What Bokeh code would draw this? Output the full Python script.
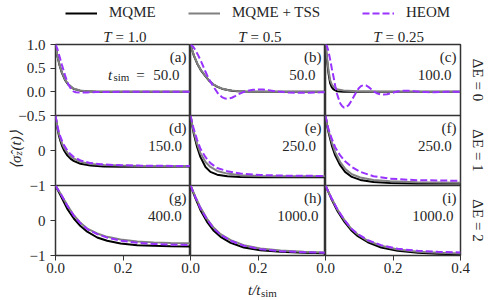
import math
from bokeh.plotting import figure
from bokeh.layouts import column, row
from bokeh.models import Range1d, FixedTicker, Label, Legend, LegendItem, CustomJSTickFormatter
from bokeh.embed import file_html
from bokeh.resources import INLINE

# ---------------- data ----------------
series_names = ["MQME", "MQME + TSS", "HEOM"]
temperatures = ["1.0", "0.5", "0.25"]
energy_gaps = ["0", "1", "2"]
panel_tags = ["(a)", "(b)", "(c)", "(d)", "(e)", "(f)", "(g)", "(h)", "(i)"]
t_sim_values = ["50.0", "50.0", "100.0", "150.0", "250.0", "250.0", "400.0", "1000.0", "1000.0"]

x_ticks = [0.0, 0.2, 0.4]
x_tick_labels = ["0.0", "0.2", "0.4"]
row1_y_ticks = [-0.5, 0.0, 0.5, 1.0]
row1_y_labels = ["\u22120.5", "0.0", "0.5", "1.0"]
row23_y_ticks = [-1.0, 0.0]
row23_y_labels = ["\u22121", "0"]
y_ranges = [(-0.5, 1.0), (-1.0, 1.0), (-1.0, 1.0)]

# (t / t_sim, <sigma_z>) pairs
A_MQME = [(0, 1.0), (0.003, 0.86), (0.006, 0.74), (0.012, 0.56), (0.019, 0.40), (0.029, 0.24), (0.0385, 0.148),
          (0.053, 0.063), (0.073, 0.025), (0.093, 0.01), (0.12, 0.004), (0.19, 0.0), (0.4, 0.0)]
A_TSS = [(0, 1.0), (0.003, 0.87), (0.006, 0.75), (0.012, 0.57), (0.019, 0.41), (0.029, 0.25), (0.0385, 0.157),
         (0.053, 0.07), (0.073, 0.03), (0.093, 0.014), (0.12, 0.007), (0.19, 0.0), (0.4, 0.0)]
A_HEOM = [(0, 1.0), (0.005, 0.92), (0.009, 0.82), (0.019, 0.57), (0.029, 0.33), (0.0385, 0.15), (0.046, 0.06),
          (0.053, 0.01), (0.06, -0.008), (0.073, -0.014), (0.093, -0.012), (0.12, -0.006), (0.19, 0.0), (0.4, 0.0)]

B_MQME = [(0, 1.0), (0.005, 0.88), (0.01, 0.765), (0.02, 0.595), (0.03, 0.465), (0.0435, 0.335), (0.055, 0.235),
          (0.068, 0.155), (0.08, 0.105), (0.093, 0.067), (0.11, 0.038), (0.1225, 0.024), (0.14, 0.013),
          (0.162, 0.007), (0.2, 0.002), (0.24, 0.0), (0.4, 0.0)]
B_TSS = [(0, 1.0), (0.005, 0.88), (0.01, 0.77), (0.02, 0.60), (0.03, 0.47), (0.0435, 0.34), (0.055, 0.24),
         (0.068, 0.16), (0.08, 0.11), (0.093, 0.07), (0.11, 0.04), (0.1225, 0.026), (0.14, 0.015),
         (0.162, 0.008), (0.2, 0.003), (0.24, 0.0), (0.4, 0.0)]
B_HEOM = [(0, 1.0), (0.007, 0.96), (0.0138, 0.89), (0.0236, 0.76), (0.0336, 0.607), (0.0435, 0.44), (0.0534, 0.286),
          (0.068, 0.107), (0.083, -0.05), (0.093, -0.11), (0.103, -0.143), (0.113, -0.145), (0.1225, -0.125),
          (0.132, -0.09), (0.142, -0.05), (0.155, -0.01), (0.167, 0.02), (0.185, 0.043), (0.2015, 0.05),
          (0.215, 0.047), (0.231, 0.036), (0.246, 0.02), (0.261, 0.007), (0.275, -0.004), (0.29, -0.014),
          (0.31, -0.019), (0.33, -0.021), (0.35, -0.019), (0.369, -0.014), (0.385, -0.01), (0.4, -0.006)]

C_MQME = [(0, 1.0), (0.002, 0.86), (0.004, 0.71), (0.0065, 0.55), (0.0089, 0.39), (0.0114, 0.28), (0.0138, 0.18),
          (0.0185, 0.10), (0.0237, 0.05), (0.0336, 0.014), (0.0534, 0.0), (0.093, 0.0), (0.4, 0.0)]
C_TSS = [(0, 1.0), (0.002, 0.88), (0.004, 0.75), (0.0065, 0.60), (0.0089, 0.46), (0.0114, 0.35), (0.0138, 0.25),
         (0.0185, 0.16), (0.0237, 0.107), (0.0336, 0.057), (0.0534, 0.029), (0.093, 0.014), (0.142, 0.007),
         (0.241, 0.0), (0.4, 0.0)]
C_HEOM = [(0, 1.0), (0.004, 0.97), (0.008, 0.88), (0.0138, 0.68), (0.0185, 0.5), (0.0237, 0.32), (0.029, 0.12),
          (0.0336, -0.03), (0.039, -0.15), (0.0435, -0.24), (0.049, -0.3), (0.0553, -0.335), (0.061, -0.325),
          (0.068, -0.285), (0.075, -0.21), (0.083, -0.11), (0.09, -0.02), (0.098, 0.07), (0.105, 0.12),
          (0.1126, 0.143), (0.12, 0.135), (0.127, 0.105), (0.134, 0.065), (0.142, 0.015), (0.152, -0.03),
          (0.162, -0.052), (0.172, -0.058), (0.182, -0.05), (0.192, -0.035), (0.2015, -0.014), (0.213, 0.005),
          (0.226, 0.02), (0.238, 0.024), (0.251, 0.02), (0.265, 0.01), (0.281, 0.0), (0.3, -0.006),
          (0.32, -0.007), (0.34, -0.004), (0.36, 0.0), (0.4, 0.0)]

D_MQME = [(0, 1.0), (0.005, 0.66), (0.01, 0.43), (0.015, 0.26), (0.02, 0.12), (0.025, 0.01), (0.035, -0.14),
          (0.045, -0.24), (0.055, -0.305), (0.074, -0.38), (0.104, -0.43), (0.143, -0.455), (0.193, -0.465),
          (0.25, -0.467), (0.32, -0.462), (0.4, -0.457)]
D_TSS = [(0, 1.0), (0.005, 0.70), (0.01, 0.48), (0.015, 0.32), (0.02, 0.19), (0.025, 0.09), (0.035, -0.06),
         (0.045, -0.16), (0.055, -0.235), (0.074, -0.325), (0.104, -0.385), (0.143, -0.415), (0.193, -0.432),
         (0.25, -0.442), (0.32, -0.448), (0.4, -0.45)]
D_HEOM = [(0, 1.0), (0.005, 0.73), (0.01, 0.53), (0.015, 0.38), (0.02, 0.26), (0.025, 0.16), (0.035, 0.0),
          (0.045, -0.11), (0.055, -0.19), (0.074, -0.285), (0.104, -0.36), (0.143, -0.40), (0.193, -0.422),
          (0.25, -0.432), (0.32, -0.438), (0.4, -0.442)]

E_MQME = [(0, 1.0), (0.005, 0.72), (0.0099, 0.47), (0.0198, 0.094), (0.0296, -0.19), (0.0445, -0.47),
          (0.059, -0.61), (0.079, -0.69), (0.109, -0.736), (0.148, -0.755), (0.207, -0.764), (0.287, -0.766),
          (0.4, -0.766)]
E_TSS = [(0, 1.0), (0.005, 0.74), (0.0099, 0.52), (0.0198, 0.19), (0.0296, -0.075), (0.0445, -0.33),
         (0.059, -0.47), (0.079, -0.585), (0.109, -0.66), (0.148, -0.705), (0.207, -0.727), (0.287, -0.735),
         (0.4, -0.738)]
E_HEOM = [(0, 1.0), (0.005, 0.78), (0.0099, 0.61), (0.0198, 0.30), (0.0296, 0.047), (0.0445, -0.19),
          (0.059, -0.36), (0.079, -0.50), (0.109, -0.59), (0.148, -0.66), (0.207, -0.70), (0.287, -0.72),
          (0.4, -0.727)]

F_MQME = [(0, 1.0), (0.004, 0.75), (0.0089, 0.52), (0.0188, 0.14), (0.0287, -0.14), (0.0435, -0.42),
          (0.058, -0.61), (0.078, -0.755), (0.103, -0.84), (0.142, -0.90), (0.192, -0.928), (0.271, -0.94),
          (0.4, -0.945)]
F_TSS = [(0, 1.0), (0.004, 0.78), (0.0089, 0.566), (0.0188, 0.236), (0.0287, -0.047), (0.0435, -0.33),
         (0.058, -0.52), (0.078, -0.68), (0.103, -0.77), (0.142, -0.84), (0.192, -0.88), (0.271, -0.908),
         (0.4, -0.92)]
F_HEOM = [(0, 1.0), (0.004, 0.80), (0.0089, 0.61), (0.0188, 0.33), (0.0287, 0.094), (0.0435, -0.14),
          (0.058, -0.31), (0.078, -0.47), (0.103, -0.61), (0.142, -0.736), (0.192, -0.805), (0.271, -0.848),
          (0.4, -0.865)]

G_MQME = [(0, 1.0), (0.0148, 0.72), (0.0346, 0.34), (0.0543, 0.057), (0.074, -0.16), (0.094, -0.32),
          (0.1235, -0.486), (0.153, -0.58), (0.193, -0.657), (0.242, -0.705), (0.291, -0.724), (0.341, -0.733),
          (0.4, -0.743)]
G_TSS = [(0, 1.0), (0.0148, 0.77), (0.0346, 0.44), (0.0543, 0.15), (0.074, -0.067), (0.094, -0.23),
         (0.1235, -0.37), (0.153, -0.467), (0.193, -0.54), (0.242, -0.60), (0.291, -0.625), (0.341, -0.64),
         (0.4, -0.648)]
G_HEOM = [(0, 1.0), (0.0148, 0.77), (0.0346, 0.43), (0.0543, 0.135), (0.074, -0.08), (0.094, -0.245),
          (0.1235, -0.39), (0.153, -0.49), (0.193, -0.575), (0.242, -0.635), (0.291, -0.67), (0.341, -0.69),
          (0.4, -0.70)]

H_MQME = [(0, 1.0), (0.0148, 0.63), (0.0296, 0.295), (0.049, -0.038), (0.069, -0.295), (0.089, -0.467),
          (0.119, -0.638), (0.158, -0.77), (0.207, -0.848), (0.267, -0.895), (0.336, -0.924), (0.4, -0.933)]
H_TSS = [(0, 1.0), (0.0148, 0.676), (0.0296, 0.37), (0.049, 0.048), (0.069, -0.21), (0.089, -0.39),
         (0.119, -0.56), (0.158, -0.705), (0.207, -0.80), (0.267, -0.857), (0.336, -0.895), (0.4, -0.914)]
H_HEOM = [(0, 1.0), (0.0148, 0.66), (0.0296, 0.343), (0.049, 0.029), (0.069, -0.23), (0.089, -0.41),
          (0.119, -0.58), (0.158, -0.724), (0.207, -0.82), (0.267, -0.876), (0.336, -0.905), (0.4, -0.92)]

I_MQME = [(0, 1.0), (0.0168, 0.63), (0.0366, 0.248), (0.0563, -0.038), (0.076, -0.276), (0.0958, -0.448),
          (0.1255, -0.62), (0.165, -0.77), (0.214, -0.867), (0.274, -0.924), (0.333, -0.952), (0.4, -0.962)]
I_TSS = [(0, 1.0), (0.0168, 0.657), (0.0366, 0.295), (0.0563, 0.01), (0.076, -0.23), (0.0958, -0.40),
         (0.1255, -0.58), (0.165, -0.724), (0.214, -0.83), (0.274, -0.895), (0.333, -0.924), (0.4, -0.943)]
I_HEOM = [(0, 1.0), (0.0168, 0.657), (0.0366, 0.295), (0.0563, 0.01), (0.076, -0.23), (0.0958, -0.39),
          (0.1255, -0.56), (0.165, -0.705), (0.214, -0.81), (0.274, -0.867), (0.333, -0.895), (0.4, -0.914)]

panel_curves = [
    [A_MQME, A_TSS, A_HEOM], [B_MQME, B_TSS, B_HEOM], [C_MQME, C_TSS, C_HEOM],
    [D_MQME, D_TSS, D_HEOM], [E_MQME, E_TSS, E_HEOM], [F_MQME, F_TSS, F_HEOM],
    [G_MQME, G_TSS, G_HEOM], [H_MQME, H_TSS, H_HEOM], [I_MQME, I_TSS, I_HEOM],
]

# ---------------- style / layout ----------------
FONT = "Liberation Serif"
FS = "15px"
FS_SUB = "11px"
TXT = "#262626"
AX = "#333333"
COLORS = ["#000000", "#808080", "#9933ff"]
DASHES = ["solid", "solid", "7 3"]

PW, PH = 500, 300                 # page canvas
FW = 135
FH = [71, 70, 70]
LEFT, TOP, BOTTOM, RIGHT, OVER = 55, 44, 45, 40, 10
num_insets = [11, 10, 9, 8.5, 9.5, 8.7, 8.7, 7, 7]


def lab(p, x, y, text, size=FS, align="left", baseline="alphabetic", style="normal", angle=0.0):
    p.add_layout(Label(x=x, y=y, x_units="screen", y_units="screen", text=text, angle=angle,
                       text_font=FONT, text_font_size=size, text_font_style=style, text_color=TXT,
                       text_align=align, text_baseline=baseline))


def tick_formatter(vals, labs):
    return CustomJSTickFormatter(args=dict(vals=vals, labs=labs), code="""
        for (let i = 0; i < vals.length; i++) { if (Math.abs(tick - vals[i]) < 1e-9) return labs[i]; }
        return "";
    """)


def style_axis(ax):
    ax.axis_line_color = None
    ax.major_tick_line_color = AX
    ax.major_tick_line_width = 1
    ax.major_tick_out = 5
    ax.major_tick_in = 0
    ax.minor_tick_line_color = None
    ax.major_label_text_font = FONT
    ax.major_label_text_font_size = FS
    ax.major_label_text_color = TXT


# background canvas holding legend and all titles (screen units: x from left, y from bottom)
bg = figure(width=PW, height=PH, x_range=Range1d(0, 1), y_range=Range1d(0, 1), x_axis_location=None,
            y_axis_location=None, toolbar_location=None, output_backend="svg", min_border=0,
            outline_line_color=None, border_fill_color="white", background_fill_color="white")
bg.grid.grid_line_color = None

for s, xpos in enumerate([65, 188, 362]):
    rr = bg.line(x=[-5, -4], y=[-5, -4], line_color=COLORS[s], line_width=2, line_dash=DASHES[s])
    leg = Legend(items=[LegendItem(label=series_names[s], renderers=[rr])], location=(xpos, PH - 21),
                 orientation="horizontal", padding=0, margin=0, spacing=0, glyph_width=32, glyph_height=16,
                 label_height=16, label_standoff=12, border_line_color=None, background_fill_alpha=0,
                 label_text_font=FONT, label_text_font_size=FS, label_text_color=TXT)
    bg.add_layout(leg)

col_left = [55, 190, 325]
row_mid = [79.5, 150, 220]
for c in range(3):
    lab(bg, col_left[c] + 56, PH - 36, "T", align="right", style="italic")
    lab(bg, col_left[c] + 60, PH - 36, "= " + temperatures[c])
for r in range(3):
    lab(bg, 477, PH - row_mid[r], "\u0394E = " + energy_gaps[r], align="center", baseline="middle",
        angle=-math.pi / 2)

# y title  <sigma_z(t)>
lab(bg, 15, PH - 155, "\u27e8\u03c3\u0302", align="right", style="italic", angle=math.pi / 2)
lab(bg, 17.5, PH - 155, "z", size=FS_SUB, style="italic", angle=math.pi / 2)
lab(bg, 15, PH - 150, "(t)\u27e9", style="italic", angle=math.pi / 2)

# x title  t/t_sim
lab(bg, 260, PH - 289, "t/t", align="right", style="italic")
lab(bg, 260.5, PH - 292, "sim", size=FS_SUB)

# ---------------- panels ----------------
panels = [[None] * 3 for _ in range(3)]
for r in range(3):
    for c in range(3):
        k = 3 * r + c
        has_x = r == 2
        has_y = c == 0
        bl = LEFT if c == 0 else OVER
        bt = TOP if r == 0 else 0
        bb = BOTTOM if r == 2 else OVER
        br = RIGHT if c == 2 else 0
        p = figure(frame_width=FW, frame_height=FH[r], x_range=Range1d(0, 0.4), y_range=Range1d(*y_ranges[r]),
                   output_backend="svg", toolbar_location=None,
                   x_axis_location="below" if has_x else None, y_axis_location="left" if has_y else None,
                   min_border_left=bl, min_border_right=br, min_border_top=bt, min_border_bottom=bb,
                   border_fill_color=None, background_fill_color="white",
                   outline_line_color=AX, outline_line_width=1.5)
        p.margin = (0, 0, 0, 0 if c == 0 else -OVER)
        p.grid.grid_line_color = None
        if has_x:
            style_axis(p.xaxis[0])
            p.xaxis[0].major_label_standoff = 2
            p.xaxis[0].ticker = FixedTicker(ticks=x_ticks)
            labs_x = x_tick_labels if c == 2 else x_tick_labels[:2] + [""]
            p.xaxis[0].formatter = tick_formatter(x_ticks, labs_x)
        if has_y:
            style_axis(p.yaxis[0])
            p.yaxis[0].major_label_standoff = 5
            yt, yl = (row1_y_ticks, row1_y_labels) if r == 0 else (row23_y_ticks, row23_y_labels)
            p.yaxis[0].ticker = FixedTicker(ticks=yt)
            p.yaxis[0].formatter = tick_formatter(yt, yl)

        for s, data in enumerate(panel_curves[k]):
            p.line(x=[d[0] for d in data], y=[d[1] for d in data], line_color=COLORS[s], line_width=2,
                   line_dash=DASHES[s])

        fh = FH[r]
        lab(p, FW - 4, fh - 12, panel_tags[k], align="right")
        lab(p, FW - num_insets[k], fh - 30, t_sim_values[k], align="right")
        if k == 0:
            lab(p, 52.5, fh - 30, "t", style="italic")
            lab(p, 58, fh - 32, "sim", size=FS_SUB)
            lab(p, 85, fh - 30, "=", align="center")
        panels[r][c] = p

rows = []
for r in range(3):
    rw = row(*panels[r], spacing=0)
    rw.margin = (0, 0, -OVER if r < 2 else 0, 0)
    rows.append(rw)
grid = column(*rows, spacing=0)
grid.margin = (-PH, 0, 0, 0)
page = column(bg, grid, spacing=0)

open("out.html", "w").write(file_html(page, INLINE))
